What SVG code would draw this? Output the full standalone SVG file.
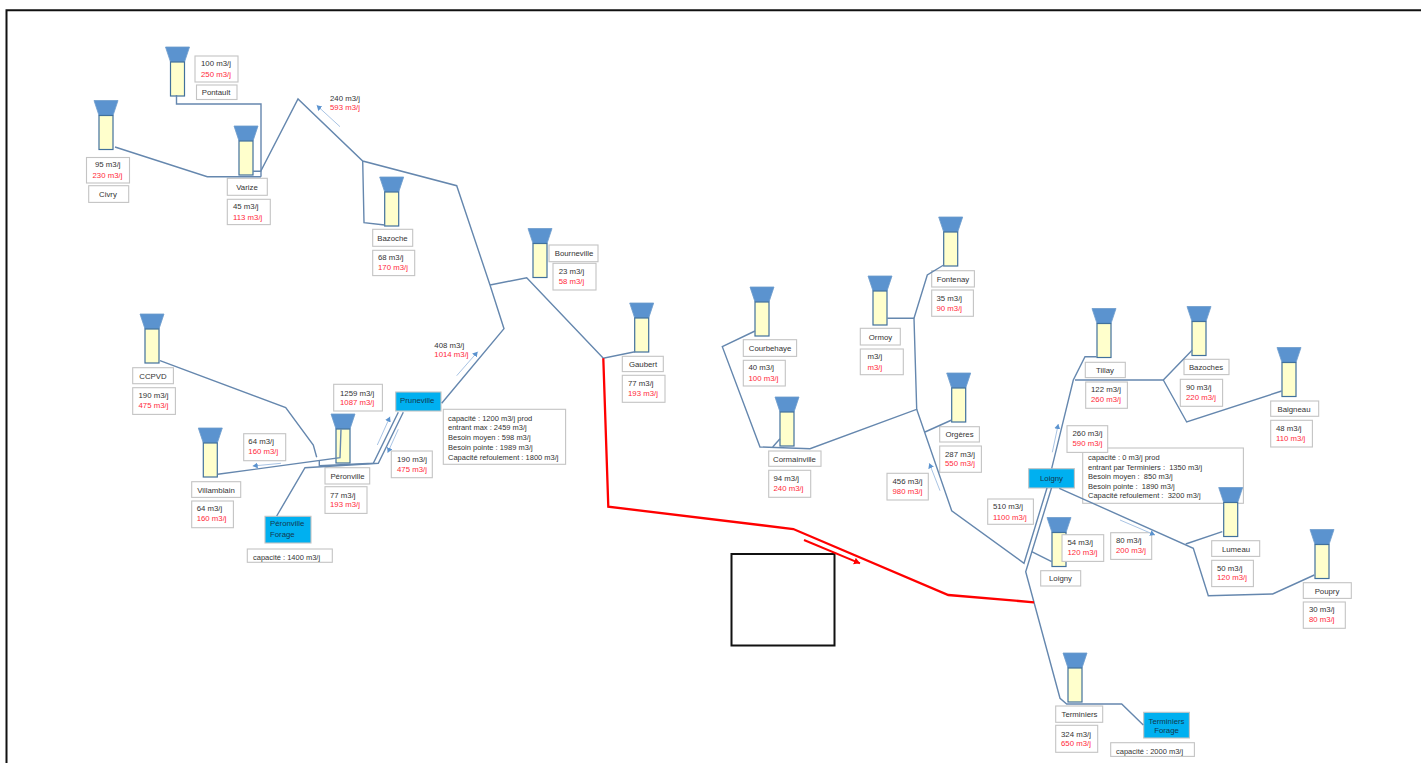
<svg xmlns="http://www.w3.org/2000/svg" width="1421" height="763" viewBox="0 0 1421 763">
<style>
text{font-family:"Liberation Sans",Arial,sans-serif;font-size:7.8px;fill:#333;white-space:pre}
text.r{fill:#ff2a3a}
text.c{text-anchor:middle}
text.b{fill:#12384f}
text.d{font-size:7.5px}
rect.t{fill:#fff;stroke:#c4c4c4;stroke-width:1.1}
rect.s{fill:#00b0f0;stroke:#c4c4c4;stroke-width:1.1}
.f{fill:#5b93cf;stroke:#6d9ccc;stroke-width:.8}
.k{fill:#ffffcc;stroke:#41719c;stroke-width:1.2}
#connectors polyline{fill:none;stroke:#6587ae;stroke-width:1.4}
#connectors polyline.red{stroke:#ff0000;stroke-width:2.3}
#connectors polyline.flow{stroke:#a9c4e4;stroke-width:1;marker-end:url(#ah)}
#connectors polyline.redflow{stroke:#ff0000;stroke-width:2;marker-end:url(#rh)}
</style>
<defs>
<g id="tower"><polygon class="f" points="-12,0 12,0 7,15 -7,15"/><rect class="k" x="-7" y="15" width="14" height="34"/></g>
<marker id="ah" markerUnits="userSpaceOnUse" markerWidth="7" markerHeight="7" refX="5" refY="3" orient="auto"><path d="M0,0L5,3L0,6z" fill="#5b93cf"/></marker>
<marker id="rh" markerUnits="userSpaceOnUse" markerWidth="8" markerHeight="8" refX="6" refY="3.5" orient="auto"><path d="M0,0L6,3.5L0,7z" fill="#ff0000"/></marker>
</defs>
<rect width="1421" height="763" fill="#fff"/>
<path d="M6.5,763V10.3H1421" fill="none" stroke="#111" stroke-width="2"/>
<rect x="731.5" y="554" width="103" height="91.5" fill="#fff" stroke="#111" stroke-width="2"/>

<g id="pontault"><use href="#tower" x="177.5" y="47"/><rect class="t" x="195" y="56" width="43" height="26"/><text x="201" y="66">100 m3/j</text><text class="r" x="201" y="76.5">250 m3/j</text><rect class="t" x="196.5" y="85" width="40.5" height="14.5"/><text class="c" x="216" y="95">Pontault</text></g>
<g id="civry"><use href="#tower" x="106" y="100.5"/><rect class="t" x="86.5" y="157.5" width="43" height="25.5"/><text x="95" y="167">95 m3/j</text><text class="r" x="92.5" y="177.5">230 m3/j</text><rect class="t" x="88.7" y="185.7" width="40" height="16.7"/><text class="c" x="108" y="197">Civry</text></g>
<g id="varize"><use href="#tower" x="246" y="126"/><rect class="t" x="227.3" y="178.3" width="40" height="17"/><text class="c" x="247" y="190">Varize</text><rect class="t" x="227.3" y="199.3" width="43" height="25.3"/><text x="233" y="209">45 m3/j</text><text class="r" x="233" y="219.5">113 m3/j</text></g>
<g id="bazoche"><use href="#tower" x="391.7" y="177"/><rect class="t" x="372.7" y="229.3" width="40" height="17"/><text class="c" x="392.5" y="241">Bazoche</text><rect class="t" x="372.7" y="250.3" width="42" height="25.3"/><text x="378" y="260">68 m3/j</text><text class="r" x="378" y="270">170 m3/j</text></g>
<g id="flow-240"><text x="330" y="101">240 m3/j</text><text class="r" x="330" y="110">593 m3/j</text></g>
<g id="bourneville"><use href="#tower" x="540" y="228.5"/><rect class="t" x="549" y="245" width="49" height="16.7"/><text class="c" x="574" y="256">Bourneville</text><rect class="t" x="553" y="263.3" width="43" height="26.7"/><text x="558.7" y="274">23 m3/j</text><text class="r" x="558.7" y="283.5">58 m3/j</text></g>
<g id="gaubert"><use href="#tower" x="641.7" y="303"/><rect class="t" x="622.3" y="356.3" width="41" height="15.3"/><text class="c" x="643" y="366.8">Gaubert</text><rect class="t" x="622.3" y="375.3" width="42.7" height="27"/><text x="628" y="385.5">77 m3/j</text><text class="r" x="628" y="396">193 m3/j</text></g>
<g id="ccpvd"><use href="#tower" x="152" y="314"/><rect class="t" x="132.7" y="367.7" width="40.7" height="16"/><text class="c" x="153" y="378.5">CCPVD</text><rect class="t" x="132.7" y="387.7" width="42.7" height="26.7"/><text x="138.5" y="398">190 m3/j</text><text class="r" x="138.5" y="408">475 m3/j</text></g>
<g id="villamblain"><use href="#tower" x="210.3" y="428"/><rect class="t" x="191.7" y="481.7" width="49" height="15.7"/><text class="c" x="216" y="492.5">Villamblain</text><rect class="t" x="191.7" y="501" width="41.7" height="26.7"/><text x="196.7" y="511">64 m3/j</text><text class="r" x="196.7" y="521">160 m3/j</text></g>
<g id="flow-64"><rect class="t" x="243.7" y="433.7" width="42" height="27"/><text x="248.3" y="444">64 m3/j</text><text class="r" x="248.3" y="454">160 m3/j</text></g>
<g id="peronville"><use href="#tower" x="343" y="414"/><rect class="t" x="333.7" y="384.3" width="48.7" height="26.7"/><text x="340" y="396">1259 m3/j</text><text class="r" x="340" y="405">1087 m3/j</text><rect class="t" x="325" y="467.7" width="44.7" height="16.3"/><text class="c" x="347.5" y="478.5">Péronville</text><rect class="t" x="325" y="486.7" width="42" height="26.7"/><text x="330" y="498">77 m3/j</text><text class="r" x="330" y="507">193 m3/j</text></g>
<g id="flow-190"><rect class="t" x="391.3" y="451" width="41" height="26.7"/><text x="397" y="462">190 m3/j</text><text class="r" x="397" y="471.5">475 m3/j</text></g>
<g id="flow-408"><text x="434.3" y="348">408 m3/j</text><text class="r" x="434.3" y="357">1014 m3/j</text></g>
<g id="pruneville"><rect class="s" x="395.7" y="392" width="45.3" height="19"/><text class="b" x="400" y="403">Pruneville</text><rect class="t" x="443.3" y="409.3" width="122.3" height="55"/><text class="d" x="448" y="420.5">capacité : 1200 m3/j prod</text><text class="d" x="448" y="429.5">entrant max : 2459 m3/j</text><text class="d" x="448" y="440">Besoin moyen : 598 m3/j</text><text class="d" x="448" y="450">Besoin pointe : 1989 m3/j</text><text class="d" x="448" y="459.5">Capacité refoulement : 1800 m3/j</text></g>
<g id="peronville-forage"><rect class="s" x="265" y="516.3" width="46" height="26.7"/><text class="b" x="270" y="526">Péronville</text><text class="b" x="270" y="537">Forage</text><rect class="t" x="247.3" y="549" width="85" height="13.3"/><text class="d" x="253" y="560">capacité : 1400 m3/j</text></g>
<g id="courbehaye"><use href="#tower" x="762" y="287"/><rect class="t" x="743.3" y="339.7" width="53.3" height="16.7"/><text class="c" x="770" y="351">Courbehaye</text><rect class="t" x="743.3" y="360.3" width="42" height="25.7"/><text x="748.5" y="370">40 m3/j</text><text class="r" x="748.5" y="380.5">100 m3/j</text></g>
<g id="cormainville"><use href="#tower" x="787" y="397"/><rect class="t" x="768.7" y="451" width="52.3" height="15.3"/><text class="c" x="794.5" y="461.5">Cormainville</text><rect class="t" x="768.7" y="470.3" width="42" height="27"/><text x="773.5" y="480.5">94 m3/j</text><text class="r" x="773.5" y="491">240 m3/j</text></g>
<g id="ormoy"><use href="#tower" x="880" y="276"/><rect class="t" x="860.3" y="328.3" width="40" height="16.7"/><text class="c" x="880.5" y="339.5">Ormoy</text><rect class="t" x="860.3" y="349" width="43" height="25.7"/><text x="867.5" y="359">m3/j</text><text class="r" x="867.5" y="369.5">m3/j</text></g>
<g id="fontenay"><use href="#tower" x="950.7" y="217"/><rect class="t" x="931.7" y="270.7" width="42.7" height="16.3"/><text class="c" x="953" y="281.7">Fontenay</text><rect class="t" x="931.7" y="290" width="41.7" height="26.3"/><text x="936.5" y="301">35 m3/j</text><text class="r" x="936.5" y="311">90 m3/j</text></g>
<g id="orgeres"><use href="#tower" x="958.7" y="373"/><rect class="t" x="939.7" y="426.7" width="39.7" height="15.3"/><text class="c" x="959.5" y="437">Orgères</text><rect class="t" x="939.7" y="446" width="41.7" height="26.3"/><text x="945" y="457">287 m3/j</text><text class="r" x="945" y="466">550 m3/j</text></g>
<g id="flow-456"><rect class="t" x="887" y="473.3" width="41.3" height="26.7"/><text x="892.5" y="483.5">456 m3/j</text><text class="r" x="892.5" y="494">980 m3/j</text></g>
<g id="tillay"><use href="#tower" x="1104" y="308.5"/><rect class="t" x="1085.3" y="362.3" width="40" height="15.3"/><text class="c" x="1105" y="372.7">Tillay</text><rect class="t" x="1085.7" y="382" width="41.7" height="26.3"/><text x="1091" y="392">122 m3/j</text><text class="r" x="1091" y="402">260 m3/j</text></g>
<g id="bazoches"><use href="#tower" x="1199" y="306.5"/><rect class="t" x="1184" y="359.3" width="45" height="15.3"/><text class="c" x="1206" y="369.7">Bazoches</text><rect class="t" x="1180.3" y="379.3" width="42.3" height="27"/><text x="1186" y="390">90 m3/j</text><text class="r" x="1186" y="400">220 m3/j</text></g>
<g id="baigneau"><use href="#tower" x="1289" y="347.5"/><rect class="t" x="1270.7" y="401" width="48" height="15.3"/><text class="c" x="1294" y="411.5">Baigneau</text><rect class="t" x="1270.7" y="420.3" width="41.7" height="26.7"/><text x="1276" y="430.5">48 m3/j</text><text class="r" x="1276" y="441">110 m3/j</text></g>
<g id="loigny-station"><rect class="t" x="1082.7" y="448" width="160.7" height="55.3"/><text class="d" x="1088" y="459.5">capacité : 0 m3/j prod</text><text class="d" x="1088" y="469.5">entrant par Terminiers :  1350 m3/j</text><text class="d" x="1088" y="478.5">Besoin moyen :  850 m3/j</text><text class="d" x="1088" y="488.5">Besoin pointe :  1890 m3/j</text><text class="d" x="1088" y="498">Capacité refoulement :  3200 m3/j</text><rect class="s" x="1028.7" y="468.7" width="45.7" height="19.3"/><text class="b c" x="1051.5" y="480.5">Loigny</text></g>
<g id="flow-260"><rect class="t" x="1067" y="425.7" width="40.7" height="26.7"/><text x="1072.5" y="435.5">260 m3/j</text><text class="r" x="1072.5" y="446">590 m3/j</text></g>
<g id="flow-510"><rect class="t" x="987.7" y="499" width="45.7" height="25.3"/><text x="993" y="509">510 m3/j</text><text class="r" x="993" y="519.5">1100 m3/j</text></g>
<g id="lumeau"><use href="#tower" x="1230.7" y="487.5"/><rect class="t" x="1211.7" y="540.7" width="48" height="15.7"/><text class="c" x="1236" y="551.5">Lumeau</text><rect class="t" x="1211.7" y="560.3" width="41.7" height="26.3"/><text x="1217" y="571">50 m3/j</text><text class="r" x="1217" y="580">120 m3/j</text></g>
<g id="poupry"><use href="#tower" x="1322" y="529.5"/><rect class="t" x="1303.3" y="582.7" width="48" height="15.7"/><text class="c" x="1327" y="593.5">Poupry</text><rect class="t" x="1303.3" y="602" width="42" height="26.3"/><text x="1309" y="612">30 m3/j</text><text class="r" x="1309" y="622">80 m3/j</text></g>
<g id="loigny"><use href="#tower" x="1059" y="517.5"/><rect class="t" x="1062" y="534.7" width="41.7" height="26.7"/><text x="1067.5" y="544.5">54 m3/j</text><text class="r" x="1067.5" y="555">120 m3/j</text><rect class="t" x="1040.7" y="570.7" width="40" height="15.3"/><text class="c" x="1060.5" y="580.7">Loigny</text></g>
<g id="flow-80"><rect class="t" x="1110.7" y="532.7" width="41" height="26.7"/><text x="1116" y="543">80 m3/j</text><text class="r" x="1116" y="553">200 m3/j</text></g>
<g id="terminiers"><use href="#tower" x="1075" y="653"/><rect class="t" x="1055.7" y="706" width="47" height="16.3"/><text class="c" x="1079.5" y="717">Terminiers</text><rect class="t" x="1055.7" y="725.3" width="42" height="27"/><text x="1061" y="736.5">324 m3/j</text><text class="r" x="1061" y="746">650 m3/j</text></g>
<g id="terminiers-forage"><rect class="s" x="1143.7" y="712.3" width="45.7" height="25.7"/><text class="b c" x="1166.5" y="723.5">Terminiers</text><text class="b c" x="1166.5" y="732.5">Forage</text><rect class="t" x="1110.7" y="742.7" width="83.7" height="13.7"/><text class="d" x="1116" y="753.5">capacité : 2000 m3/j</text></g>

<g id="connectors">
<polyline points="176.5,95 176.5,104 261,104 261,176.7"/>
<polyline points="115,147 207.3,176.7 261,176.7"/>
<polyline points="253,171.3 260.7,171.3 298,99 362.7,161 456.7,185.7 490,285 504,328.7 441.7,403.3"/>
<polyline points="362.7,161 364,222.7 384.7,225"/>
<polyline points="490,285 526.7,277.7 603.3,358.3 635,351.7"/>
<polyline points="160,360.7 285.7,407.7 313.3,445 316.7,457.3"/>
<polyline points="217.7,474.3 340,457.7 341,429.3"/>
<polyline points="398.3,412.3 373.3,463.3 319.3,465.7 319.3,461"/>
<polyline points="403.3,412.3 378.3,463.3 305,467.7 276.7,516"/>
<polyline points="755,331 722.3,346.7 760,447 810,448.7 916.7,409.3 914,318.3 887.3,318.3"/>
<polyline points="772.7,447 780,438.7"/>
<polyline points="914,318.3 927.3,275 943.7,265"/>
<polyline points="916.7,409.3 951.7,510.7 1024,563.3 1047,488"/>
<polyline points="925,432 951.7,420"/>
<polyline points="1051.5,488 1025.7,571.7 1060,698.3 1066.7,704 1121.7,704 1143.3,725"/>
<polyline points="1031.7,551.7 1051.7,561.7"/>
<polyline points="1051.7,468.3 1073.3,380 1085,356.7 1096.7,356.7"/>
<polyline points="1075,380 1163.3,380 1192.3,350"/>
<polyline points="1163.3,380 1186.7,422 1281.7,391"/>
<polyline points="1059.3,488.3 1193.3,548.3 1208.3,595.7 1272.7,594 1314.3,575"/>
<polyline points="1185.7,544 1222.3,531.7"/>
<polyline class="red" points="603.3,358.3 608.3,506.7 793.3,529 948.3,595 1034,602.3"/>
<polyline class="redflow" points="804,540 860,563.3"/>
<polyline class="flow" points="340,126.7 316.7,105.3"/>
<polyline class="flow" points="456.7,375.7 477.7,351.7"/>
<polyline class="flow" points="377.3,445 390,416.7"/>
<polyline class="flow" points="398.3,429.3 387.7,452.7"/>
<polyline class="flow" points="281,463.3 252.7,466"/>
<polyline class="flow" points="940,490.7 929.3,463.3"/>
<polyline class="flow" points="1052.3,452.3 1058.3,424"/>
<polyline class="flow" points="1120,520 1155,535"/>
</g>
</svg>
